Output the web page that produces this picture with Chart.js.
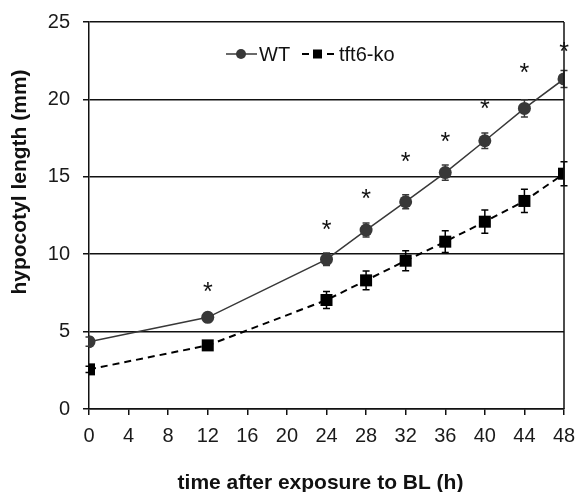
<!DOCTYPE html>
<html lang="en">
<head>
  <meta charset="UTF-8">
  <title>Hypocotyl length after BL exposure</title>
  <script src="https://cdn.jsdelivr.net/npm/chart.js"></script>
  <style>
    html, body { margin: 0; padding: 0; background: #fff; }
    #wrap { width: 577px; height: 492px; }
  </style>
</head>
<body>
  <div id="wrap"><canvas id="growthChart" width="577" height="492"></canvas></div>

  <script>
    // Hours after BL exposure and mean hypocotyl length (mm) with SE
    const hours = [0, 12, 24, 28, 32, 36, 40, 44, 48];
    const wtLength = [4.35, 5.92, 9.67, 11.56, 13.39, 15.27, 17.33, 19.42, 21.32];
    const wtErr = [0.3, 0.3, 0.4, 0.45, 0.45, 0.5, 0.5, 0.55, 0.55];
    const koLength = [2.56, 4.11, 7.04, 8.31, 9.58, 10.81, 12.1, 13.44, 15.2];
    const koErr = [0.2, 0.25, 0.55, 0.6, 0.65, 0.7, 0.75, 0.75, 0.78];

    // significance marks (*) above each pair
    const starHours = [12, 24, 28, 32, 36, 40, 44, 48];
    const starHeight = [7.9, 11.9, 13.9, 16.3, 17.6, 19.7, 22.0, 23.4];

    const xTicks = [0, 4, 8, 12, 16, 20, 24, 28, 32, 36, 40, 44, 48];
    const yTicks = [0, 5, 10, 15, 20, 25];

    const FONT = '"Liberation Sans", Arial, sans-serif';
    const WT_COLOR = '#383838';

    const toPoints = (xs, ys) => xs.map((x, i) => ({ x: x, y: ys[i] }));

    // vertical error bars with small caps, drawn under the markers
    const errorBars = {
      id: 'errorBars',
      beforeDatasetsDraw(chart) {
        const { ctx, scales: { x, y } } = chart;
        const sets = [
          { vals: wtLength, err: wtErr, color: WT_COLOR },
          { vals: koLength, err: koErr, color: '#000' }
        ];
        ctx.save();
        ctx.lineWidth = 1.5;
        sets.forEach(s => {
          ctx.strokeStyle = s.color;
          hours.forEach((h, i) => {
            const px = x.getPixelForValue(h);
            const top = y.getPixelForValue(s.vals[i] + s.err[i]);
            const bot = y.getPixelForValue(s.vals[i] - s.err[i]);
            ctx.beginPath();
            ctx.moveTo(px, top); ctx.lineTo(px, bot);
            ctx.moveTo(px - 3.5, top); ctx.lineTo(px + 3.5, top);
            ctx.moveTo(px - 3.5, bot); ctx.lineTo(px + 3.5, bot);
            ctx.stroke();
          });
        });
        ctx.restore();
      }
    };

    // asterisks, right frame edge, axis titles and the inline legend
    const extras = {
      id: 'extras',
      afterDraw(chart) {
        const { ctx, chartArea, scales: { x, y } } = chart;
        ctx.save();

        ctx.strokeStyle = '#111';
        ctx.lineWidth = 1.5;
        ctx.beginPath();
        ctx.moveTo(chartArea.right, chartArea.top);
        ctx.lineTo(chartArea.right, chartArea.bottom);
        ctx.stroke();

        ctx.fillStyle = '#111';
        ctx.font = '25px ' + FONT;
        ctx.textAlign = 'center';
        ctx.textBaseline = 'alphabetic';
        starHours.forEach((h, i) => {
          ctx.fillText('*', x.getPixelForValue(h), y.getPixelForValue(starHeight[i]) + 13);
        });

        // axis titles
        ctx.font = 'bold 21px ' + FONT;
        ctx.textBaseline = 'middle';
        ctx.fillText('time after exposure to BL (h)', (chartArea.left + chartArea.right) / 2 - 6, 483);
        ctx.save();
        ctx.translate(20, 182);
        ctx.rotate(-Math.PI / 2);
        ctx.fillText('hypocotyl length (mm)', 0, 0);
        ctx.restore();

        // legend
        const cy = 54;
        ctx.font = '20px ' + FONT;
        ctx.textAlign = 'left';
        ctx.textBaseline = 'middle';

        ctx.strokeStyle = WT_COLOR;
        ctx.lineWidth = 1.5;
        ctx.beginPath();
        ctx.moveTo(226, cy); ctx.lineTo(257, cy);
        ctx.stroke();
        ctx.fillStyle = WT_COLOR;
        ctx.beginPath();
        ctx.arc(241, cy, 5, 0, Math.PI * 2);
        ctx.fill();
        ctx.fillStyle = '#111';
        ctx.fillText('WT', 259, cy + 1);

        ctx.strokeStyle = '#000';
        ctx.lineWidth = 2;
        ctx.beginPath();
        ctx.moveTo(302, cy); ctx.lineTo(309, cy);
        ctx.moveTo(327, cy); ctx.lineTo(334, cy);
        ctx.stroke();
        ctx.fillStyle = '#000';
        ctx.fillRect(313, cy - 4.5, 9, 9);
        ctx.fillStyle = '#111';
        ctx.fillText('tft6-ko', 339, cy + 1);

        ctx.restore();
      }
    };

    new Chart('growthChart', {
      type: 'line',
      data: {
        datasets: [
          {
            label: 'WT',
            data: toPoints(hours, wtLength),
            borderColor: WT_COLOR,
            borderWidth: 1.5,
            backgroundColor: WT_COLOR,
            pointStyle: 'circle',
            pointRadius: 6.5,
            pointBackgroundColor: WT_COLOR,
            pointBorderWidth: 0,
            tension: 0
          },
          {
            label: 'tft6-ko',
            data: toPoints(hours, koLength),
            borderColor: '#000',
            borderWidth: 2,
            borderDash: [7, 5],
            backgroundColor: '#000',
            pointStyle: 'rect',
            pointRadius: 8.5,
            pointBackgroundColor: '#000',
            pointBorderWidth: 0,
            tension: 0
          }
        ]
      },
      options: {
        responsive: false,
        animation: false,
        layout: { padding: { top: 22, right: 13, left: 0, bottom: 0 } },
        plugins: {
          legend: { display: false },
          tooltip: { enabled: false }
        },
        scales: {
          x: {
            type: 'linear',
            min: 0,
            max: 48,
            afterBuildTicks: s => { s.ticks = xTicks.map(v => ({ value: v })); },
            afterFit: s => { s.height = 83; s.paddingLeft = 0; s.paddingRight = 0; },
            grid: { drawOnChartArea: false, drawTicks: true, tickLength: 6, color: '#111', lineWidth: 1.5 },
            border: { display: true, color: '#111', width: 1.5 },
            ticks: { color: '#1a1a1a', padding: 9, maxRotation: 0, font: { family: FONT, size: 20 } }
          },
          y: {
            min: 0,
            max: 25,
            afterBuildTicks: s => { s.ticks = yTicks.map(v => ({ value: v })); },
            afterFit: s => { s.width = 89; s.paddingTop = 0; s.paddingBottom = 0; },
            grid: { color: '#111', lineWidth: 1.5, tickLength: 6 },
            border: { display: true, color: '#111', width: 1.5 },
            ticks: { color: '#1a1a1a', padding: 13, font: { family: FONT, size: 20 } }
          }
        }
      },
      plugins: [errorBars, extras]
    });
  </script>
</body>
</html>
